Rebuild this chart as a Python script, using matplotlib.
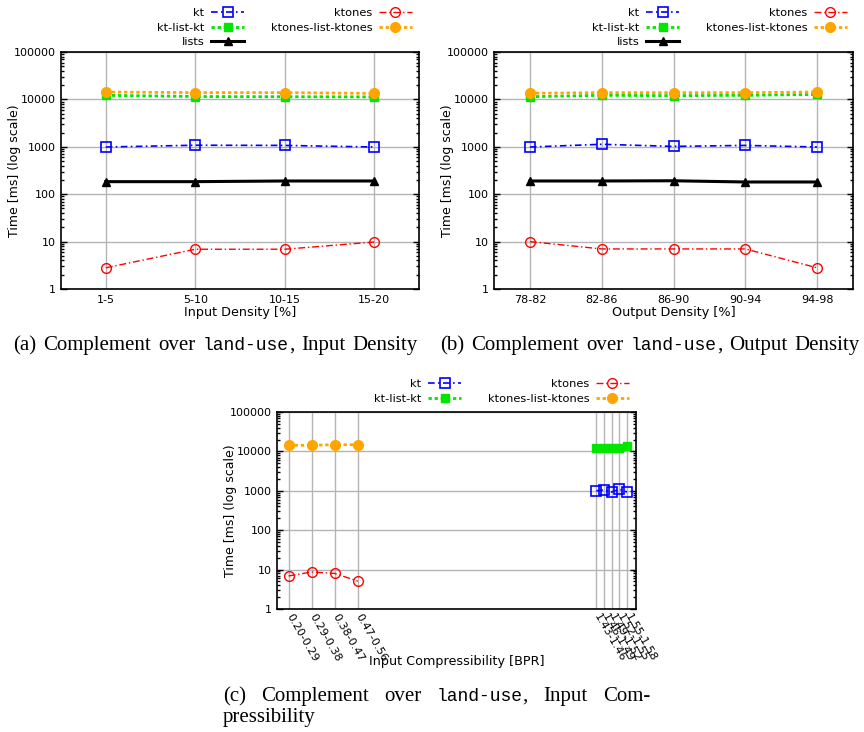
import matplotlib
matplotlib.use("Agg")
import matplotlib.pyplot as plt
from matplotlib.ticker import FuncFormatter, LogLocator, NullFormatter
from matplotlib.transforms import IdentityTransform

W, H = 864, 732

# (a) Input density
density_in = ["1-5", "5-10", "10-15", "15-20"]
a_kt = [990, 1080, 1070, 990]
a_ktlist = [12200, 11500, 11400, 11300]
a_lists = [184, 184, 190, 190]
a_ktones = [2.8, 6.9, 6.9, 9.8]
a_ktoneslist = [14300, 13900, 13900, 13400]

# (b) Output density
density_out = ["78-82", "82-86", "86-90", "90-94", "94-98"]
b_kt = [990, 1130, 1020, 1070, 990]
b_ktlist = [11400, 12200, 12000, 12200, 12700]
b_lists = [190, 190, 192, 181, 181]
b_ktones = [10, 7, 7, 7, 2.8]
b_ktoneslist = [13500, 13900, 13900, 13900, 14300]

# (c) Input compressibility -- two separate BPR ranges (range midpoints)
bpr_lo = [0.245, 0.335, 0.425, 0.515]
bpr_lo_labels = ["0.20-0.29", "0.29-0.38", "0.38-0.47", "0.47-0.56"]
c_ktones = [6.9, 8.7, 8.0, 5.1]
c_ktoneslist = [14300, 14300, 14800, 14800]
bpr_hi = [1.445, 1.475, 1.505, 1.535, 1.565]
bpr_hi_labels = ["1.43-1.46", "1.46-1.49", "1.49-1.52", "1.52-1.55", "1.55-1.58"]
c_kt = [1000, 1050, 930, 1100, 930]
c_ktlist = [12500, 12500, 12500, 12500, 13500]

STYLE = {
    "kt": dict(color="#0000ff", ls=(0, (4, 2, 1, 2)), lw=1.2, marker="s",
               mfc="none", ms=7, mew=1.2),
    "kt-list-kt": dict(color="#00e600", ls=(0, (1.2, 1)), lw=2.0, marker="s",
                       ms=6),
    "lists": dict(color="black", ls="-", lw=2.2, marker="^", ms=6),
    "ktones": dict(color="#ff0000", ls=(0, (5, 2, 1, 2)), lw=1.0, marker="o",
                   mfc="none", ms=7, mew=1.0),
    "ktones-list-ktones": dict(color="#ffa500", ls=(0, (1.2, 1)), lw=2.0,
                               marker="o", ms=7),
}

plt.rcParams["font.family"] = ["DejaVu Sans"]
plt.rcParams["font.size"] = 8

fig = plt.figure(figsize=(W / 100, H / 100), dpi=100)


def box(left, top, right, bottom):
    return [left / W, 1 - bottom / H, (right - left) / W, (bottom - top) / H]


def setup(ax, xlabel):
    ax.set_yscale("log")
    ax.set_ylim(1, 100000)
    ax.set_yticks([1, 10, 100, 1000, 10000, 100000])
    ax.yaxis.set_major_formatter(FuncFormatter(lambda v, _: f"{v:g}"))
    ax.yaxis.set_minor_locator(LogLocator(base=10, subs=range(2, 10)))
    ax.yaxis.set_minor_formatter(NullFormatter())
    ax.tick_params(axis="y", which="both", direction="in", left=True, right=True,
                   width=1.0)
    ax.tick_params(axis="y", which="major", length=4, pad=3.5)
    ax.tick_params(axis="y", which="minor", length=2)
    ax.tick_params(axis="x", length=0, pad=4)
    ax.grid(True, which="major", color="#b4b4b4", lw=1.0)
    ax.set_axisbelow(True)
    for s in ax.spines.values():
        s.set_linewidth(1.2)
    ax.set_ylabel("Time [ms] (log scale)", fontsize=9)
    ax.yaxis.set_label_coords(-40 / (ax.get_position().width * W), 0.5)
    ax.set_xlabel(xlabel, fontsize=9.2, labelpad=1)


def legend(ax, right, top, ncol=2):
    ax.legend(loc="upper right", bbox_to_anchor=(right / W, 1 - top / H),
              bbox_transform=fig.transFigure, ncol=ncol, frameon=False,
              markerfirst=False, borderpad=0, borderaxespad=0,
              handlelength=2.9, handletextpad=0.6, columnspacing=2.3,
              labelspacing=0.4, fontsize=8.2)


# (a)
ax = fig.add_axes(box(61, 52, 419, 289))
xa = range(len(density_in))
ax.plot(xa, a_kt, label="kt", **STYLE["kt"])
ax.plot(xa, a_ktlist, label="kt-list-kt", **STYLE["kt-list-kt"])
ax.plot(xa, a_lists, label="lists", **STYLE["lists"])
ax.plot(xa, a_ktones, label="ktones", **STYLE["ktones"])
ax.plot(xa, a_ktoneslist, label="ktones-list-ktones", **STYLE["ktones-list-ktones"])
ax.set_xlim(-0.5, len(density_in) - 0.5)
ax.set_xticks(list(xa), density_in)
setup(ax, "Input Density [%]")
legend(ax, 412, 8)

# (b)
ax = fig.add_axes(box(494, 52, 853, 289))
xb = range(len(density_out))
ax.plot(xb, b_kt, label="kt", **STYLE["kt"])
ax.plot(xb, b_ktlist, label="kt-list-kt", **STYLE["kt-list-kt"])
ax.plot(xb, b_lists, label="lists", **STYLE["lists"])
ax.plot(xb, b_ktones, label="ktones", **STYLE["ktones"])
ax.plot(xb, b_ktoneslist, label="ktones-list-ktones", **STYLE["ktones-list-ktones"])
ax.set_xlim(-0.5, len(density_out) - 0.5)
ax.set_xticks(list(xb), density_out)
setup(ax, "Output Density [%]")
legend(ax, 847, 8)

# (c)
ax = fig.add_axes(box(277, 412, 636, 609))
ax.plot(bpr_hi, c_kt, label="kt", **STYLE["kt"])
ax.plot(bpr_hi, c_ktlist, label="kt-list-kt", **STYLE["kt-list-kt"])
ax.plot(bpr_lo, c_ktones, label="ktones", **STYLE["ktones"])
ax.plot(bpr_lo, c_ktoneslist, label="ktones-list-ktones", **STYLE["ktones-list-ktones"])
ax.set_xlim(0.2, 1.6)
ax.set_xticks(bpr_lo + bpr_hi, bpr_lo_labels + bpr_hi_labels, rotation=-60,
              ha="left", va="center", rotation_mode="anchor")
setup(ax, "Input Compressibility [BPR]")
ax.xaxis.set_label_coords(0.5, -0.235)
legend(ax, 629, 379)

# LaTeX-style subcaptions: serif text with a typewriter word
SERIF = ("Liberation Serif", 15)
MONO = ("Liberation Mono", 13)
renderer = fig.canvas.get_renderer()


def caption(x0, baseline, words, width):
    placed = []
    for word in words:
        runs = []
        for txt, (fam, size) in word:
            t = fig.text(0, 0, txt, family=fam, size=size, ha="left",
                         va="baseline", transform=IdentityTransform())
            runs.append((t, t.get_window_extent(renderer).width))
        placed.append(runs)
    total = sum(w for runs in placed for _, w in runs)
    gap = (width - total) / (len(placed) - 1) if width else 6
    x = x0
    for runs in placed:
        for t, w in runs:
            t.set_position((x, H - baseline))
            x += w
        x += gap


def words(s):
    return [[(w, SERIF)] for w in s.split()]


land = [("land-use", MONO), (",", SERIF)]
caption(13, 350, words("(a) Complement over") + [land] + words("Input Density"), 405)
caption(440, 350, words("(b) Complement over") + [land] + words("Output Density"), 420)
caption(223, 701, words("(c) Complement over") + [land] + words("Input Com-"), 427)
caption(223, 722, words("pressibility"), None)

fig.savefig("out.png", dpi=100)
